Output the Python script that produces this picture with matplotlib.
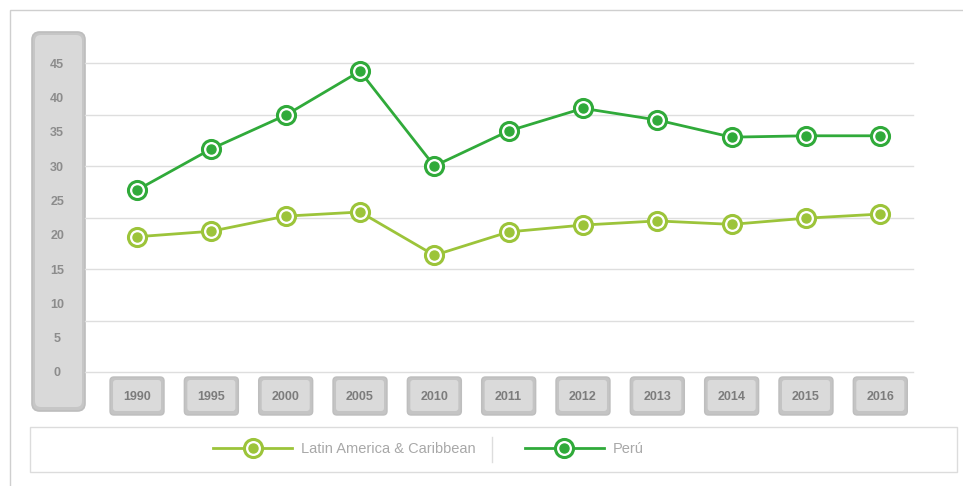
import numpy as np
import matplotlib
matplotlib.use("Agg")
import matplotlib.pyplot as plt
from matplotlib.patches import FancyBboxPatch, Rectangle
from matplotlib.lines import Line2D
from matplotlib.legend_handler import HandlerTuple

years = ['1990', '1995', '2000', '2005', '2010', '2011', '2012', '2013', '2014', '2015', '2016']
latam = [19.7, 20.5, 22.7, 23.3, 17.0, 20.4, 21.4, 22.0, 21.5, 22.4, 23.0]
peru = [26.5, 32.5, 37.4, 43.8, 30.0, 35.1, 38.4, 36.7, 34.2, 34.4, 34.4]
y_ticks = [0, 5, 10, 15, 20, 25, 30, 35, 40, 45]

c_latam = '#9cc43a'
c_peru = '#30aa3a'

plt.rcParams['font.family'] = ['Liberation Sans', 'DejaVu Sans']

W, H = 963, 486
fig = plt.figure(figsize=(W / 100, H / 100), dpi=100)


def fx(px):
    return px / W


def fy(py):
    return 1 - py / H


def add_box(x0, y0, x1, y1, fc, ec='none', lw=1, r=0.005):
    # x0,y0 top-left and x1,y1 bottom-right in pixels
    fig.patches.append(FancyBboxPatch((fx(x0), fy(y1)), fx(x1) - fx(x0), fy(y0) - fy(y1),
                                      boxstyle='round,pad=0,rounding_size=%g' % r,
                                      transform=fig.transFigure, fc=fc, ec=ec, lw=lw,
                                      mutation_aspect=W / H, zorder=-2))


# outer frame
fig.patches.append(Rectangle((fx(10), fy(490)), fx(980) - fx(10), fy(10) - fy(490),
                             transform=fig.transFigure, fill=False, ec='#cfcfcf', lw=1,
                             zorder=-3))

# y axis panel
add_box(32, 32, 85, 411, '#c6c6c6', '#bdbdbd', 1.2, 0.008)
add_box(35, 35, 82, 407, '#d9d9d9', r=0.006)

ax = fig.add_axes([fx(85), fy(372), fx(913) - fx(85), fy(63) - fy(372)])
ax.set_facecolor('none')
x = np.arange(len(years))
ax.set_xlim(-0.7, 10.44)
ax.set_ylim(0, 45)

for g in np.arange(0, 45.1, 7.5):
    ax.axhline(g, color='#dedede', lw=1, zorder=1, clip_on=False)

for vals, col in [(latam, c_latam), (peru, c_peru)]:
    ax.plot(x, vals, color=col, lw=2, zorder=3, clip_on=False)
    ax.plot(x, vals, ls='none', marker='o', ms=13, mfc='white', mec=col, mew=2.2,
            zorder=4, clip_on=False)
    ax.plot(x, vals, ls='none', marker='o', ms=6.5, mfc=col, mec=col, zorder=5, clip_on=False)

ax.set_yticks(y_ticks)
ax.set_yticklabels([str(t) for t in y_ticks], ha='center', color='#8c8c8c',
                   fontsize=9, fontweight='bold')
ax.tick_params(axis='y', length=0, pad=20)
ax.set_xticks([])
for s in ax.spines.values():
    s.set_visible(False)

# x category boxes
inv = fig.transFigure.inverted()
for i, yr in enumerate(years):
    cx, _ = inv.transform(ax.transData.transform((x[i], 0)))
    cpx = cx * W
    add_box(cpx - 27, 377, cpx + 27, 415, '#c4c4c4', '#bebebe', 1, 0.004)
    add_box(cpx - 24, 380, cpx + 24, 411, '#dadada', r=0.003)
    fig.text(cx, fy(397), yr, ha='center', va='center', fontsize=9, fontweight='bold',
             color='#7c7c7c')

# legend box
fig.patches.append(Rectangle((fx(30), fy(472)), fx(957) - fx(30), fy(427) - fy(472),
                             transform=fig.transFigure, fc='white', ec='#dcdcdc', lw=1,
                             zorder=-2))
fig.add_artist(Line2D([fx(492), fx(492)], [fy(462), fy(437)], transform=fig.transFigure,
                      color='#dddddd', lw=1))


def handle(col):
    ring = Line2D([], [], color=col, lw=2, marker='o', ms=13, mfc='white', mec=col, mew=2.2)
    dot = Line2D([], [], ls='none', marker='o', ms=6.5, mfc=col, mec=col)
    return (ring, dot)


leg = fig.legend([handle(c_latam), handle(c_peru)], ['Latin America & Caribbean', 'Perú'],
                 handler_map={tuple: HandlerTuple(ndivide=1, pad=0)},
                 loc='center left', bbox_to_anchor=(fx(200), fy(449)), ncol=2,
                 frameon=False, handlelength=5.4, handletextpad=0.6, columnspacing=3.4,
                 fontsize=10.5, labelcolor='#a8a8a8')

fig.savefig('out.png', dpi=100)
